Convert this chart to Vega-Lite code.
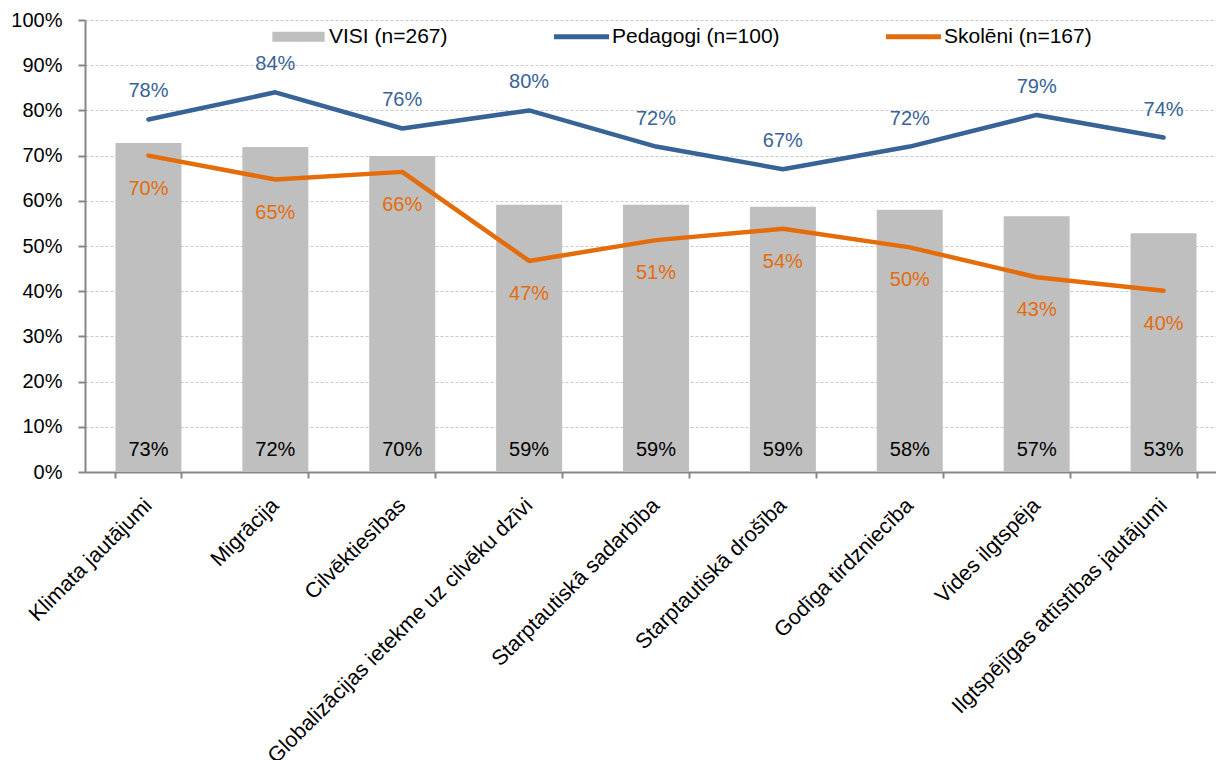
{
  "$schema": "https://vega.github.io/schema/vega-lite/v6.json",
  "autosize": "none",
  "width": 1142,
  "height": 452,
  "padding": {"left": 85, "top": 20, "right": 0, "bottom": 288},
  "background": "white",
  "config": {
    "font": "Liberation Sans",
    "view": {"stroke": null},
    "axis": {"labelFont": "Liberation Sans", "labelColor": "#000000", "labelFontSize": 20, "title": null}
  },
  "data": {
    "values": [
      {"kat": "Klimata jautājumi", "grupa": "VISI (n=267)", "v": 0.728},
      {"kat": "Migrācija", "grupa": "VISI (n=267)", "v": 0.719},
      {"kat": "Cilvēktiesības", "grupa": "VISI (n=267)", "v": 0.699},
      {"kat": "Globalizācijas ietekme uz cilvēku dzīvi", "grupa": "VISI (n=267)", "v": 0.591},
      {"kat": "Starptautiskā sadarbība", "grupa": "VISI (n=267)", "v": 0.591},
      {"kat": "Starptautiskā drošība", "grupa": "VISI (n=267)", "v": 0.587},
      {"kat": "Godīga tirdzniecība", "grupa": "VISI (n=267)", "v": 0.58},
      {"kat": "Vides ilgtspēja", "grupa": "VISI (n=267)", "v": 0.566},
      {"kat": "Ilgtspējīgas attīstības jautājumi", "grupa": "VISI (n=267)", "v": 0.528},
      {"kat": "Klimata jautājumi", "grupa": "Pedagogi (n=100)", "v": 0.78},
      {"kat": "Migrācija", "grupa": "Pedagogi (n=100)", "v": 0.84},
      {"kat": "Cilvēktiesības", "grupa": "Pedagogi (n=100)", "v": 0.76},
      {"kat": "Globalizācijas ietekme uz cilvēku dzīvi", "grupa": "Pedagogi (n=100)", "v": 0.80},
      {"kat": "Starptautiskā sadarbība", "grupa": "Pedagogi (n=100)", "v": 0.72},
      {"kat": "Starptautiskā drošība", "grupa": "Pedagogi (n=100)", "v": 0.67},
      {"kat": "Godīga tirdzniecība", "grupa": "Pedagogi (n=100)", "v": 0.72},
      {"kat": "Vides ilgtspēja", "grupa": "Pedagogi (n=100)", "v": 0.79},
      {"kat": "Ilgtspējīgas attīstības jautājumi", "grupa": "Pedagogi (n=100)", "v": 0.74},
      {"kat": "Klimata jautājumi", "grupa": "Skolēni (n=167)", "v": 0.70},
      {"kat": "Migrācija", "grupa": "Skolēni (n=167)", "v": 0.647},
      {"kat": "Cilvēktiesības", "grupa": "Skolēni (n=167)", "v": 0.664},
      {"kat": "Globalizācijas ietekme uz cilvēku dzīvi", "grupa": "Skolēni (n=167)", "v": 0.467},
      {"kat": "Starptautiskā sadarbība", "grupa": "Skolēni (n=167)", "v": 0.513},
      {"kat": "Starptautiskā drošība", "grupa": "Skolēni (n=167)", "v": 0.538},
      {"kat": "Godīga tirdzniecība", "grupa": "Skolēni (n=167)", "v": 0.497},
      {"kat": "Vides ilgtspēja", "grupa": "Skolēni (n=167)", "v": 0.431},
      {"kat": "Ilgtspējīgas attīstības jautājumi", "grupa": "Skolēni (n=167)", "v": 0.401}
    ]
  },
  "encoding": {
    "x": {
      "field": "kat",
      "type": "nominal",
      "sort": null,
      "scale": {"paddingInner": 0.48, "paddingOuter": 0.24},
      "axis": {
        "title": null,
        "labelAngle": -45,
        "labelAlign": "right",
        "labelBaseline": "middle",
        "labelPadding": 24,
        "labelLimit": 500,
        "labelFontSize": 21.5,
        "domainColor": "#868686",
        "domainWidth": 2,
        "tickColor": "#868686",
        "tickWidth": 2,
        "tickSize": 6,
        "tickBand": "extent",
        "grid": false
      }
    }
  },
  "layer": [
    {
      "transform": [{"filter": "datum.grupa === 'VISI (n=267)'"}],
      "mark": {"type": "bar"},
      "encoding": {
        "y": {
          "field": "v",
          "type": "quantitative",
          "scale": {"domain": [0, 1], "nice": false},
          "axis": {
            "title": null,
            "format": ".0%",
            "values": [0, 0.1, 0.2, 0.3, 0.4, 0.5, 0.6, 0.7, 0.8, 0.9, 1],
            "grid": true,
            "gridColor": "#C8C8C8",
            "gridDash": [3, 2],
            "gridWidth": 1,
            "domainColor": "#868686",
            "domainWidth": 2,
            "tickColor": "#868686",
            "tickWidth": 2,
            "tickSize": 7,
            "labelPadding": 16,
            "labelFontSize": 20
          }
        },
        "color": {
          "field": "grupa",
          "type": "nominal",
          "scale": {
            "domain": ["VISI (n=267)", "Pedagogi (n=100)", "Skolēni (n=167)"],
            "range": ["#BFBFBF", "#386396", "#E46C0A"]
          },
          "legend": {
            "title": null,
            "orient": "none",
            "direction": "horizontal",
            "legendX": 186,
            "legendY": -11,
            "symbolSize": 3025,
            "labelFontSize": 21,
            "labelLimit": 400,
            "labelColor": "#000000",
            "labelOffset": 3,
            "columnPadding": 106,
            "encode": {
              "symbols": {
                "update": {
                  "shape": {"signal": "datum.value === 'VISI (n=267)' ? 'M-0.95,-0.18H0.95V0.18H-0.95Z' : 'M-1,-0.09H1V0.09H-1Z'"},
                  "fill": {"scale": "color", "field": "value"},
                  "stroke": {"value": "transparent"},
                  "strokeWidth": {"value": 0},
                  "opacity": {"value": 1}
                }
              }
            }
          }
        }
      }
    },
    {
      "transform": [{"filter": "datum.grupa === 'VISI (n=267)'"}],
      "mark": {"type": "text", "fontSize": 20, "color": "#000000", "baseline": "alphabetic", "dy": -16},
      "encoding": {
        "y": {"datum": 0},
        "text": {"field": "v", "type": "quantitative", "format": ".0%"}
      }
    },
    {
      "transform": [{"filter": "datum.grupa !== 'VISI (n=267)'"}],
      "mark": {"type": "line", "strokeWidth": 4.5, "strokeJoin": "round", "strokeCap": "round"},
      "encoding": {
        "y": {"field": "v", "type": "quantitative"},
        "color": {"field": "grupa", "type": "nominal"}
      }
    },
    {
      "transform": [{"filter": "datum.grupa === 'Pedagogi (n=100)'"}],
      "mark": {"type": "text", "fontSize": 20, "color": "#386396", "baseline": "alphabetic", "dy": -22},
      "encoding": {
        "y": {"field": "v", "type": "quantitative"},
        "text": {"field": "v", "type": "quantitative", "format": ".0%"}
      }
    },
    {
      "transform": [{"filter": "datum.grupa === 'Skolēni (n=167)'"}],
      "mark": {"type": "text", "fontSize": 20, "color": "#E46C0A", "baseline": "alphabetic", "dy": 39},
      "encoding": {
        "y": {"field": "v", "type": "quantitative"},
        "text": {"field": "v", "type": "quantitative", "format": ".0%"}
      }
    }
  ]
}
